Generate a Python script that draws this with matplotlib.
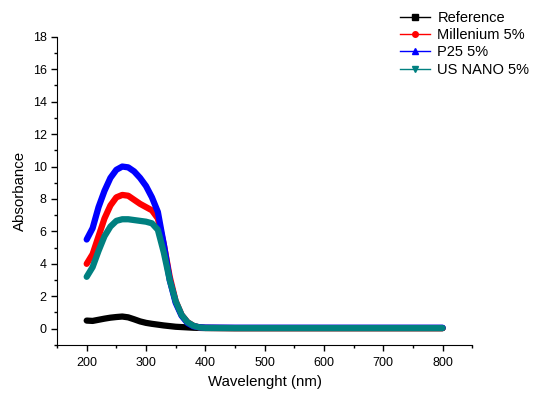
import matplotlib
matplotlib.use('Agg')
import matplotlib.pyplot as plt
from matplotlib.ticker import MultipleLocator

plt.rcParams['font.family'] = ['Liberation Sans', 'DejaVu Sans']

# wavelength (nm) and absorbance
wavelength = [200, 210, 220, 230, 240, 250, 260, 270, 280, 290, 300, 310, 320, 330, 340,
              350, 360, 370, 380, 390, 400, 450, 500, 550, 600, 650, 700, 750, 800]
reference = [0.50, 0.48, 0.55, 0.62, 0.68, 0.72, 0.75, 0.70, 0.58, 0.45, 0.36, 0.30, 0.25, 0.20, 0.16,
             0.12, 0.10, 0.08, 0.06, 0.05, 0.04, 0.03, 0.03, 0.03, 0.03, 0.03, 0.03, 0.03, 0.03]
millenium = [4.0, 4.6, 5.7, 6.8, 7.6, 8.1, 8.25, 8.2, 7.95, 7.7, 7.5, 7.3, 6.8, 5.2, 3.2,
             1.7, 0.85, 0.4, 0.18, 0.08, 0.05, 0.04, 0.04, 0.04, 0.04, 0.04, 0.04, 0.04, 0.04]
p25 = [5.5, 6.2, 7.5, 8.5, 9.3, 9.8, 10.0, 9.95, 9.7, 9.3, 8.8, 8.1, 7.2, 5.2, 3.0,
       1.6, 0.8, 0.35, 0.15, 0.09, 0.07, 0.06, 0.06, 0.06, 0.06, 0.06, 0.06, 0.06, 0.06]
us_nano = [3.2, 3.8, 4.8, 5.7, 6.3, 6.65, 6.75, 6.75, 6.7, 6.65, 6.6, 6.5, 6.1, 4.7, 3.0,
           1.7, 0.85, 0.4, 0.18, 0.08, 0.05, 0.04, 0.04, 0.04, 0.04, 0.04, 0.04, 0.04, 0.04]

series = [
    ('Reference', reference, 'black', 's'),
    ('Millenium 5%', millenium, 'red', 'o'),
    ('P25 5%', p25, 'blue', '^'),
    ('US NANO 5%', us_nano, '#008080', 'v'),
]

fig = plt.figure(figsize=(5.33, 3.96), dpi=100)
ax = fig.add_axes([0.107, 0.129, 0.779, 0.778])

for label, vals, col, mk in series:
    ax.plot(wavelength, vals, color=col, lw=4.5, solid_capstyle='round',
            solid_joinstyle='round')

# legend handles: thin line with small marker
handles = [plt.Line2D([], [], color=col, lw=1, marker=mk, markersize=4)
           for _, _, col, mk in series]
fig.legend(handles, [s[0] for s in series], loc='upper left',
           bbox_to_anchor=(0.726, 1.006), frameon=False, fontsize=10.5,
           handlelength=2.05, handletextpad=0.5, labelspacing=0.23)

ax.set_xlim(150, 850)
ax.set_ylim(-1, 18)
ax.xaxis.set_major_locator(MultipleLocator(100))
ax.xaxis.set_minor_locator(MultipleLocator(50))
ax.yaxis.set_major_locator(MultipleLocator(2))
ax.yaxis.set_minor_locator(MultipleLocator(1))
ax.tick_params(which='major', direction='out', length=4, width=1, labelsize=9)
ax.tick_params(axis='x', which='major', pad=5)
ax.tick_params(which='minor', direction='out', length=2.5, width=1)
ax.spines['top'].set_visible(False)
ax.spines['right'].set_visible(False)

ax.set_xlabel('Wavelenght (nm)', fontsize=10.8)
ax.set_ylabel('Absorbance', fontsize=10.8)

fig.savefig('out.png', dpi=100)
